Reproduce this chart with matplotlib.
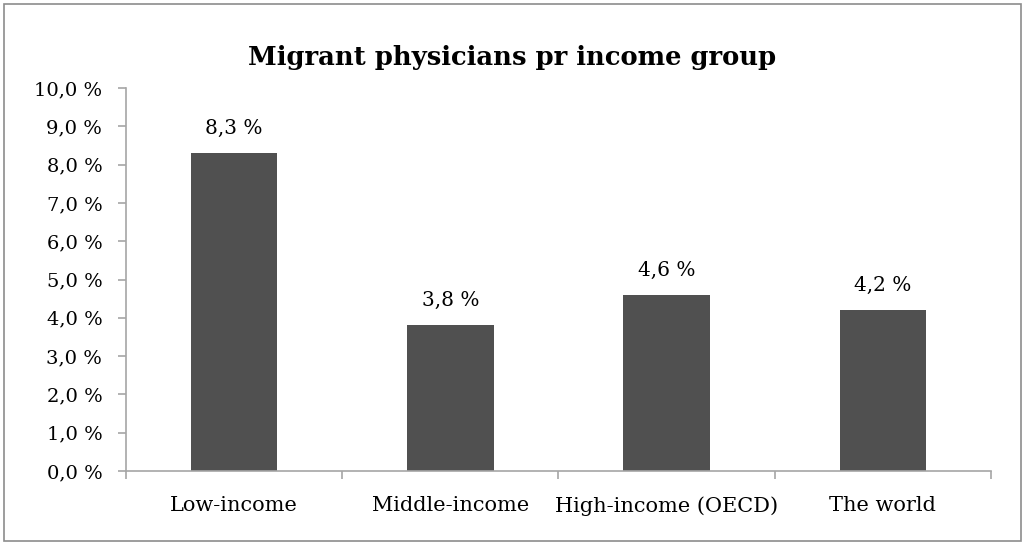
import matplotlib.pyplot as plt
from matplotlib.patches import Rectangle
import numpy as np

groups = ['Low-income', 'Middle-income', 'High-income (OECD)', 'The world']
shares = [8.3, 3.8, 4.6, 4.2]
yticks = np.arange(0, 10.5, 1.0)

plt.rcParams['font.family'] = ['DejaVu Serif']

def pct(v):
    return f'{v:.1f} %'.replace('.', ',')

fig = plt.figure(figsize=(10.25, 5.44), dpi=100)
ax = fig.add_axes([0.1229, 0.1342, 0.8439, 0.7040])

x = np.arange(len(groups))
ax.bar(x, shares, width=0.4, color='#505050', zorder=2)
for xi, v in zip(x, shares):
    ax.annotate(pct(v), (xi, v), xytext=(0, 11), textcoords='offset points',
                ha='center', va='bottom', fontsize=14.5)

ax.set_xlim(-0.5, len(groups) - 0.5)
ax.set_ylim(0, 10)
ax.set_yticks(yticks)
ax.set_yticklabels([pct(v) for v in yticks], fontsize=14)
ax.set_xticks(x)
ax.set_xticklabels(groups, fontsize=15)
ax.tick_params(axis='x', length=0, pad=18)
ax.set_xticks(np.arange(-0.5, len(groups)), minor=True)
ax.tick_params(axis='x', which='minor', length=6, color='#a6a6a6', width=1.2)
ax.tick_params(axis='y', length=6, color='#a6a6a6', width=1.2, pad=11)

for side in ['top', 'right']:
    ax.spines[side].set_visible(False)
for side in ['left', 'bottom']:
    ax.spines[side].set_color('#a6a6a6')
    ax.spines[side].set_linewidth(1.2)

fig.text(0.5, 0.895, 'Migrant physicians pr income group', ha='center', va='center',
         fontsize=18.6, fontweight='bold')

fig.patches.append(Rectangle((0.004, 0.006), 0.992, 0.986, transform=fig.transFigure,
                             fill=False, edgecolor='#8c8c8c', linewidth=1.2))

fig.savefig('out.png', dpi=100)
